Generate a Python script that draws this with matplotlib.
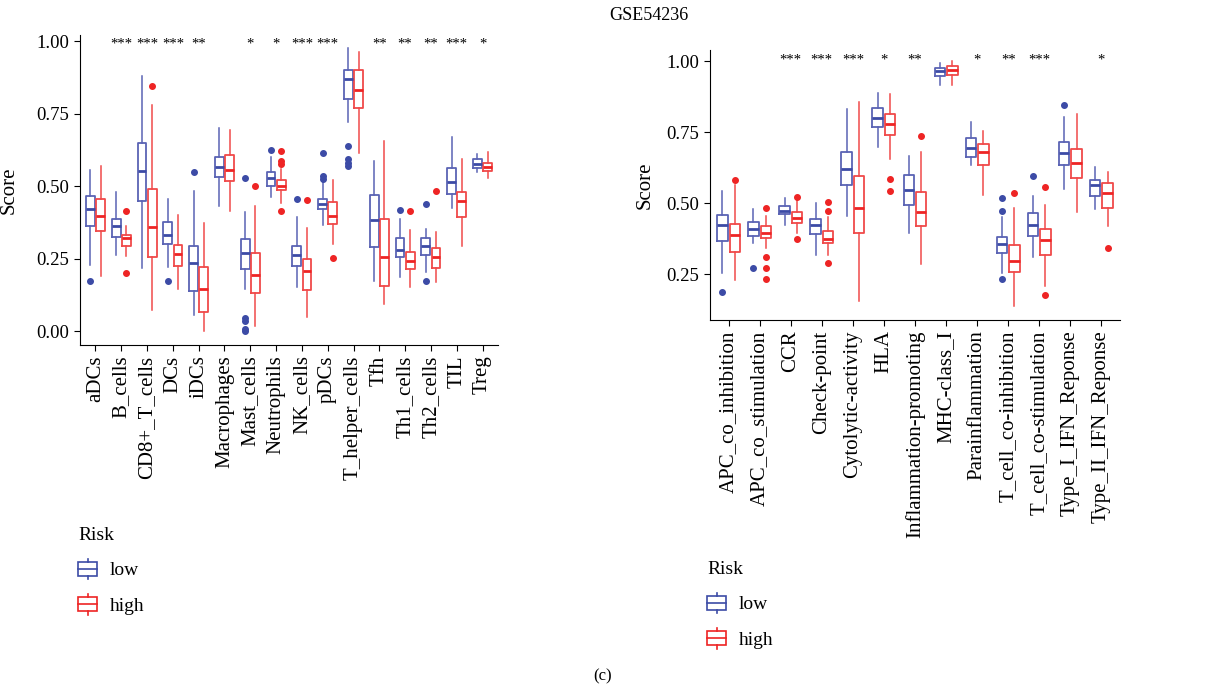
import numpy as np
import matplotlib.pyplot as plt
from matplotlib.patches import Patch, Rectangle
from matplotlib.lines import Line2D
from matplotlib.legend_handler import HandlerBase

plt.rcParams['font.family'] = ['Liberation Serif', 'DejaVu Serif']

#======== immune cells (left panel) ========
cells = ['aDCs', 'B_cells', 'CD8+_T_cells', 'DCs', 'iDCs', 'Macrophages',
         'Mast_cells', 'Neutrophils', 'NK_cells', 'pDCs', 'T_helper_cells',
         'Tfh', 'Th1_cells', 'Th2_cells', 'TIL', 'Treg']
# (whislo, q1, med, q3, whishi)
cells_low = [(0.228, 0.362, 0.421, 0.466, 0.555), (0.264, 0.325, 0.362, 0.387, 0.478),
             (0.218, 0.449, 0.552, 0.648, 0.879), (0.222, 0.299, 0.330, 0.377, 0.457),
             (0.054, 0.138, 0.234, 0.294, 0.483), (0.433, 0.530, 0.566, 0.602, 0.700),
             (0.144, 0.213, 0.268, 0.316, 0.410), (0.461, 0.501, 0.529, 0.549, 0.601),
             (0.151, 0.225, 0.264, 0.294, 0.392), (0.366, 0.420, 0.437, 0.457, 0.521),
             (0.722, 0.800, 0.870, 0.901, 0.975), (0.172, 0.289, 0.383, 0.469, 0.587),
             (0.185, 0.257, 0.279, 0.322, 0.385), (0.205, 0.264, 0.293, 0.322, 0.351),
             (0.426, 0.471, 0.515, 0.561, 0.670), (0.547, 0.563, 0.576, 0.594, 0.610)]
cells_high = [(0.190, 0.344, 0.398, 0.456, 0.569), (0.259, 0.295, 0.322, 0.333, 0.362),
              (0.072, 0.256, 0.360, 0.491, 0.780), (0.144, 0.226, 0.266, 0.297, 0.400),
              (0.000, 0.066, 0.144, 0.222, 0.372), (0.414, 0.517, 0.555, 0.608, 0.693),
              (0.017, 0.130, 0.193, 0.268, 0.432), (0.440, 0.485, 0.502, 0.521, 0.560),
              (0.049, 0.141, 0.208, 0.247, 0.354), (0.302, 0.370, 0.398, 0.445, 0.521),
              (0.615, 0.768, 0.833, 0.902, 0.963), (0.092, 0.154, 0.255, 0.386, 0.656),
              (0.153, 0.214, 0.243, 0.274, 0.348), (0.170, 0.216, 0.255, 0.285, 0.340),
              (0.294, 0.394, 0.447, 0.478, 0.592), (0.529, 0.552, 0.567, 0.579, 0.618)]
cells_low_out = [[0.174], [], [], [0.174], [0.547], [], [0.528, 0.045, 0.035, 0.008, 0.0],
                 [0.624], [0.457], [0.613, 0.536, 0.526], [0.639, 0.593, 0.580, 0.569],
                 [], [0.417], [0.439, 0.172], [], []]
cells_high_out = [[], [0.414, 0.201], [0.844], [], [], [], [0.501],
                  [0.621, 0.585, 0.576, 0.414], [0.453], [0.251], [], [], [0.415],
                  [0.484], [], []]
cells_sig = ['', '***', '***', '***', '**', '', '*', '*', '***', '***', '',
             '**', '**', '**', '***', '*']

#======== immune functions (right panel) ========
funcs = ['APC_co_inhibition', 'APC_co_stimulation', 'CCR', 'Check-point',
         'Cytolytic-activity', 'HLA', 'Inflammation-promoting', 'MHC-class_I',
         'Parainflammation', 'T_cell_co-inhibition', 'T_cell_co-stimulation',
         'Type_I_IFN_Reponse', 'Type_II_IFN_Reponse']
funcs_low = [(0.256, 0.367, 0.422, 0.460, 0.544), (0.359, 0.386, 0.409, 0.434, 0.480),
             (0.422, 0.461, 0.473, 0.491, 0.517), (0.318, 0.391, 0.422, 0.443, 0.502),
             (0.455, 0.564, 0.619, 0.679, 0.831), (0.699, 0.769, 0.798, 0.834, 0.889),
             (0.394, 0.493, 0.545, 0.598, 0.666), (0.916, 0.947, 0.966, 0.975, 0.995),
             (0.634, 0.664, 0.694, 0.730, 0.784), (0.253, 0.324, 0.358, 0.382, 0.450),
             (0.309, 0.385, 0.423, 0.467, 0.525), (0.550, 0.636, 0.677, 0.715, 0.804),
             (0.480, 0.525, 0.564, 0.582, 0.626)]
funcs_high = [(0.230, 0.328, 0.387, 0.427, 0.565), (0.341, 0.377, 0.394, 0.418, 0.455),
              (0.394, 0.429, 0.447, 0.468, 0.511), (0.318, 0.359, 0.373, 0.401, 0.453),
              (0.156, 0.396, 0.484, 0.597, 0.857), (0.654, 0.741, 0.777, 0.814, 0.884),
              (0.285, 0.419, 0.468, 0.538, 0.681), (0.916, 0.951, 0.968, 0.984, 1.000),
              (0.529, 0.633, 0.679, 0.708, 0.753), (0.139, 0.257, 0.298, 0.353, 0.482),
              (0.210, 0.318, 0.371, 0.408, 0.494), (0.470, 0.587, 0.643, 0.691, 0.814),
              (0.418, 0.484, 0.535, 0.570, 0.610)]
funcs_low_out = [[0.186], [0.271], [], [], [], [], [], [], [], [0.517, 0.474, 0.232],
                 [0.596], [0.845], []]
funcs_high_out = [[0.580], [0.482, 0.312, 0.271, 0.232], [0.523, 0.373],
                  [0.505, 0.474, 0.289], [], [0.586, 0.542], [0.736], [], [],
                  [0.536], [0.556, 0.176], [], [0.344]]
funcs_sig = ['', '', '***', '***', '***', '*', '**', '', '*', '**', '***', '', '*']

risk = ['low', 'high']
colors = {'low': '#3C4BA6', 'high': '#EE2424'}
edge = {'low': '#5A63B4', 'high': '#F04A4A'}


def stats(vals, outs):
    return [dict(whislo=v[0], q1=v[1], med=v[2], q3=v[3], whishi=v[4], fliers=o)
            for v, o in zip(vals, outs)]


def draw_panel(ax, names, low, high, low_out, high_out, sig, sig_y):
    x = np.arange(1, len(names) + 1)
    for lab, vals, outs, off in [('low', low, low_out, -0.2), ('high', high, high_out, 0.2)]:
        c = colors[lab]
        ax.bxp(stats(vals, outs), positions=x + off, widths=0.34, showcaps=False,
               boxprops=dict(color=edge[lab], lw=1.3),
               whiskerprops=dict(color=edge[lab], lw=1.1),
               medianprops=dict(color=c, lw=2.0),
               flierprops=dict(marker='o', markerfacecolor=c, markeredgecolor=c,
                               markersize=4, linestyle='none'))
    for xi, s in zip(x, sig):
        if s:
            ax.text(xi, sig_y, s, ha='center', va='center', fontsize=10.5)
    ax.set_xticks(x)
    ax.set_xticklabels(names, rotation=90, fontsize=15)
    ax.set_xlim(0.4, len(names) + 0.6)
    ax.spines['top'].set_visible(False)
    ax.spines['right'].set_visible(False)
    ax.tick_params(axis='y', labelsize=13.5, length=4, direction='out')
    ax.tick_params(axis='x', length=4, direction='out')
    ax.set_ylabel('Score', fontsize=15)


class BoxHandler(HandlerBase):
    def create_artists(self, legend, orig_handle, xdescent, ydescent, width, height, fontsize, trans):
        c = orig_handle.get_edgecolor()
        x0, y0 = -xdescent, -ydescent
        box = Rectangle((x0, y0 + 0.17 * height), width, 0.66 * height, fc='white',
                        ec=c, lw=1.2, transform=trans)
        med = Line2D([x0, x0 + width], [y0 + 0.5 * height] * 2, color=c, lw=1.2, transform=trans)
        w1 = Line2D([x0 + width / 2] * 2, [y0, y0 + 0.17 * height], color=c, lw=1.2, transform=trans)
        w2 = Line2D([x0 + width / 2] * 2, [y0 + 0.83 * height, y0 + height], color=c, lw=1.2, transform=trans)
        return [box, med, w1, w2]


fig = plt.figure(figsize=(12.07, 6.9), dpi=100)
ax1 = fig.add_axes([80 / 1207, 1 - 345 / 690, 418 / 1207, 310 / 690])
ax2 = fig.add_axes([710 / 1207, 1 - 320 / 690, 410 / 1207, 270 / 690])

draw_panel(ax1, cells, cells_low, cells_high, cells_low_out, cells_high_out, cells_sig, 0.99)
ax1.set_ylim(-0.048, 1.021)
ax1.set_yticks([0, 0.25, 0.5, 0.75, 1.0])
ax1.set_yticklabels(['0.00', '0.25', '0.50', '0.75', '1.00'])
ax1.yaxis.set_label_coords(-0.148, 0.5)

draw_panel(ax2, funcs, funcs_low, funcs_high, funcs_low_out, funcs_high_out, funcs_sig, 1.005)
ax2.set_ylim(0.089, 1.039)
ax2.set_yticks([0.25, 0.5, 0.75, 1.0])
ax2.set_yticklabels(['0.25', '0.50', '0.75', '1.00'])
ax2.yaxis.set_label_coords(-0.134, 0.5)

handles = [Patch(edgecolor=colors[r], facecolor='white', label=r) for r in risk]
for xpos, ypos in [(78, 527), (707, 561)]:
    fig.legend(handles=handles, labels=risk, handler_map={Patch: BoxHandler()},
               loc='upper left', bbox_to_anchor=(xpos / 1207, 1 - ypos / 690),
               frameon=False, title='Risk', alignment='left', fontsize=14,
               title_fontsize=14, handlelength=1.0, handleheight=1.25,
               labelspacing=0.75, handletextpad=0.65, borderpad=0, borderaxespad=0)

fig.text(649 / 1207, 1 - 16 / 690, 'GSE54236', ha='center', va='center', fontsize=13)
fig.text(603 / 1207, 1 - 676 / 690, '(c)', ha='center', va='center', fontsize=12)

fig.savefig('out.png', dpi=100)
